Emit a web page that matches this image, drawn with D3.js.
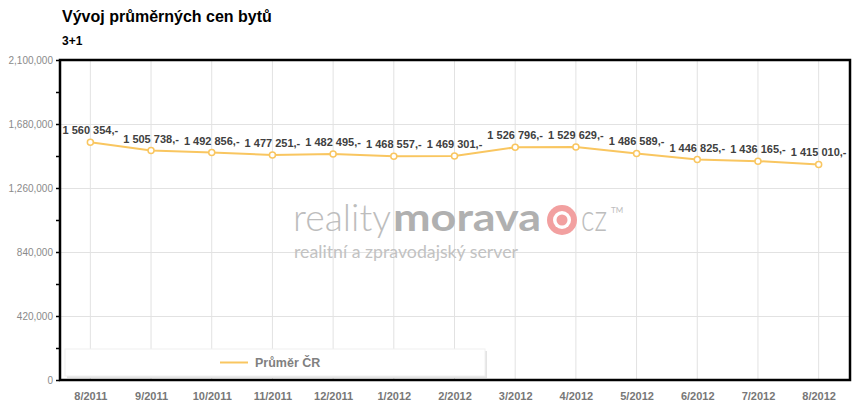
<!DOCTYPE html>
<html><head><meta charset="utf-8">
<script src="https://cdn.jsdelivr.net/npm/d3@7"></script>
<style>body{margin:0;background:#fff}svg{display:block}</style>
</head><body><svg id="c" width="862" height="411"></svg>
<script>
const categories = ["8/2011","9/2011","10/2011","11/2011","12/2011","1/2012","2/2012","3/2012","4/2012","5/2012","6/2012","7/2012","8/2012"];
const values = [1560354,1505738,1492856,1477251,1482495,1468557,1469301,1526796,1529629,1486589,1446825,1436165,1415010];
const valueLabels = ["1 560 354,-","1 505 738,-","1 492 856,-","1 477 251,-","1 482 495,-","1 468 557,-","1 469 301,-","1 526 796,-","1 529 629,-","1 486 589,-","1 446 825,-","1 436 165,-","1 415 010,-"];
const yTicks = [0,420000,840000,1260000,1680000,2100000];
const yMinorTicks = [210000,630000,1050000,1470000,1890000];
const seriesName = "Průměr ČR";
const title = "Vývoj průměrných cen bytů";
const subtitle = "3+1";

const svg = d3.select("#c");
const L=60, R=849, T=60, B=380;
const x = d3.scalePoint().domain(categories).range([L,R]).padding(0.5);
const y = d3.scaleLinear().domain([0,2100000]).range([B,T]);
const font = "Liberation Sans, Arial, sans-serif";
const wfont = "Lato, 'DejaVu Sans', sans-serif";

svg.append("text").attr("x",62).attr("y",22).attr("font-family",font).attr("font-weight","bold").attr("font-size",16).attr("fill","#000").text(title);
svg.append("text").attr("x",62).attr("y",45).attr("font-family",font).attr("font-weight","bold").attr("font-size",12).attr("fill","#000").text(subtitle);

// grid
const g = svg.append("g");
g.selectAll(".vg").data(categories).join("line").attr("x1",d=>x(d)).attr("x2",d=>x(d)).attr("y1",T).attr("y2",B).attr("stroke","#e2e2e2").attr("stroke-width",1);
g.selectAll(".hg").data(yTicks.slice(1,-1)).join("line").attr("x1",L).attr("x2",R).attr("y1",d=>Math.round(y(d))+0.5).attr("y2",d=>Math.round(y(d))+0.5).attr("stroke","#e2e2e2").attr("stroke-width",1);

// watermark
const wm = svg.append("g");
wm.append("text").attr("x",293).attr("y",231).attr("font-family",wfont).attr("font-size",38).attr("font-weight","300").attr("fill","#bdbdbd").attr("textLength",98).attr("lengthAdjust","spacingAndGlyphs").text("reality");
wm.append("text").attr("x",393).attr("y",231).attr("font-family",wfont).attr("font-size",38).attr("font-weight","700").attr("fill","#b0b0b0").attr("textLength",148).attr("lengthAdjust","spacingAndGlyphs").text("morava");
wm.append("circle").attr("cx",562).attr("cy",220).attr("r",15).attr("fill","#f2a0a0");
wm.append("circle").attr("cx",562).attr("cy",220).attr("r",9).attr("fill","#fff");
wm.append("circle").attr("cx",562).attr("cy",220).attr("r",5.5).attr("fill","#f2a0a0");
wm.append("text").attr("x",581).attr("y",231).attr("font-family",wfont).attr("font-weight","300").attr("font-size",38).attr("fill","#bdbdbd").attr("textLength",26).attr("lengthAdjust","spacingAndGlyphs").text("cz");
wm.append("text").attr("x",611).attr("y",213).attr("font-family",wfont).attr("font-size",8).attr("fill","#bdbdbd").text("TM");
wm.append("text").attr("x",294).attr("y",258).attr("font-family",wfont).attr("font-weight","400").attr("font-size",17).attr("fill","#c2c2c2").attr("textLength",224).attr("lengthAdjust","spacingAndGlyphs").text("realitní a zpravodajský server");

// legend
svg.append("rect").attr("x",67).attr("y",351).attr("width",420).attr("height",27).attr("fill","#e4e4e4");
svg.append("rect").attr("x",65).attr("y",349).attr("width",420).attr("height",27).attr("fill","#fff").attr("stroke","#f0f0f0");
svg.append("line").attr("x1",220).attr("x2",248).attr("y1",362.5).attr("y2",362.5).attr("stroke","#f9c660").attr("stroke-width",2);
svg.append("text").attr("x",255).attr("y",367).attr("font-family",font).attr("font-weight","bold").attr("font-size",12.5).attr("fill","#808080").text(seriesName);

// line
const line = d3.line().x((d,i)=>x(categories[i])).y(d=>y(d));
svg.append("path").datum(values).attr("d",line).attr("fill","none").attr("stroke","#f9c660").attr("stroke-width",2);
svg.selectAll(".pt").data(values).join("circle").attr("cx",(d,i)=>x(categories[i])).attr("cy",d=>y(d)).attr("r",3).attr("fill","#fff").attr("stroke","#f9c660").attr("stroke-width",1.5);
svg.selectAll(".lbl").data(values).join("text").attr("x",(d,i)=>x(categories[i])).attr("y",d=>y(d)-8).attr("text-anchor","middle").attr("font-family",font).attr("font-weight","bold").attr("font-size",11).attr("fill","#404040").text((d,i)=>valueLabels[i]);

// frame
svg.append("rect").attr("x",L).attr("y",T).attr("width",R-L+1).attr("height",B-T).attr("fill","none").attr("stroke","#000").attr("stroke-width",2.5);

// y axis
const ya = svg.append("g").attr("transform",`translate(${L},0)`).call(d3.axisLeft(y).tickValues(yTicks).tickSize(4).tickFormat(d3.format(",")));
ya.select(".domain").remove();
ya.selectAll("line").attr("stroke","#000").attr("stroke-width",1.5);
ya.selectAll("text").attr("font-family",font).attr("font-size",10).attr("fill","#8a8a8a").attr("x",-7);
const ym = svg.append("g").attr("transform",`translate(${L},0)`).call(d3.axisLeft(y).tickValues(yMinorTicks).tickSize(4).tickFormat(""));
ym.select(".domain").remove();
ym.selectAll("line").attr("stroke","#000").attr("stroke-width",1.5);

// x axis
const xa = svg.append("g").attr("transform",`translate(0,${B})`).call(d3.axisBottom(x).tickSize(0).tickPadding(12));
xa.select(".domain").remove();
xa.selectAll("text").attr("font-family",font).attr("font-weight","bold").attr("font-size",11).attr("fill","#777");
</script></body></html>
